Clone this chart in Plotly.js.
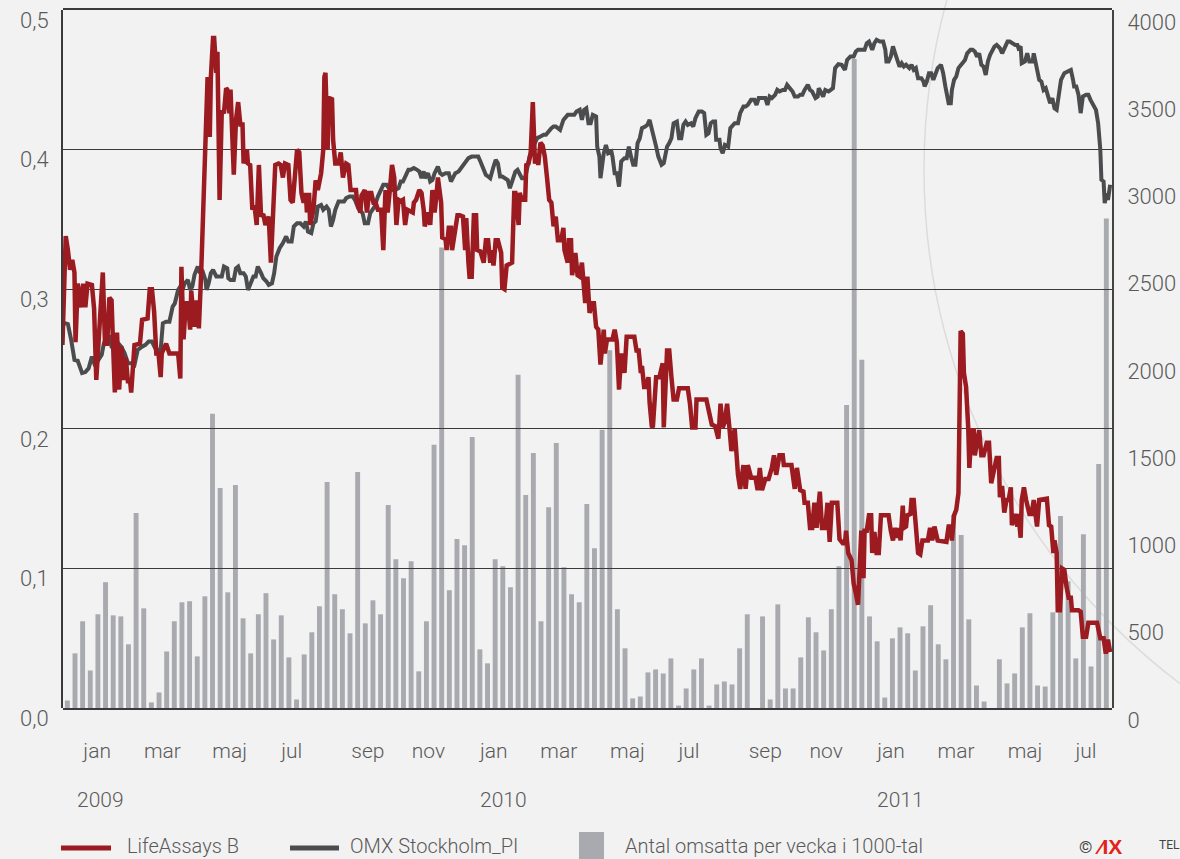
<!DOCTYPE html>
<html>
<head>
<meta charset="utf-8">
<script src="https://cdn.plot.ly/plotly-3.0.1.min.js"></script>
<style>
html,body{margin:0;padding:0;background:#f2f2f2;}
#chart{width:1180px;height:859px;}
</style>
</head>
<body>
<div id="chart"></div>
<script>
// ---------- DATA ----------
// LifeAssays B closing price (SEK), x = days from 2009-01-01
const lifeDays = [
-17,-14,-12,-10,-8,-6,-5,-3,0,2,
4,6,10,12,14,17,20,22,24,26,
28,29,31,33,35,37,39,41,43,45,
46,49,52,54,56,59,61,63,65,67,
69,71,73,74,78,81,86,89,91,92,
94,96,98,100,101,104,106,108,110,112,
114,116,118,119,121,122,124,125,127,129,
131,133,134,136,137,140,142,144,146,148,
149,152,153,155,157,159,161,163,165,167,
169,172,174,176,178,181,183,185,187,190,
192,194,196,198,200,202,204,206,207,209,
210,213,215,217,220,222,223,224,226,227,
230,231,233,236,238,240,243,245,247,249,
252,253,256,257,260,262,264,266,268,270,
272,275,277,279,281,283,285,287,289,291,
293,295,297,299,302,304,305,307,310,312,
314,315,318,320,322,324,326,327,330,331,
334,335,337,339,340,343,345,347,350,352,
353,355,356,358,360,362,363,366,369,371,
373,375,376,378,380,382,385,386,388,390,
392,395,397,398,401,402,404,407,408,410,
412,414,416,418,419,421,423,425,427,429,
431,433,435,437,440,442,443,446,447,449,
450,453,455,457,459,462,464,466,468,470,
472,474,476,479,480,482,485,487,489,491,
493,495,498,500,502,505,507,509,511,513,
514,516,518,520,521,523,524,527,530,533,
534,537,539,541,543,546,548,551,556,558,
560,563,564,573,576,578,581,584,586,588,
590,592,594,596,599,601,602,604,607,609,
611,614,618,620,622,624,627,630,633,635,
637,640,643,644,651,654,656,659,662,663,
666,668,670,672,674,677,679,682,684,686,
688,693,695,698,700,701,703,706,708,710,
712,715,717,718,720,722,724,725,727,729,
731,733,740,742,744,746,748,749,751,753,
754,756,757,760,761,763,765,767,769,771,
776,778,780,782,785,793,795,797,798,800,
802,804,806,808,809,811,813,814,816,818,
819,822,823,825,827,830,832,834,836,837,
839,841,842,844,846,848,850,852,853,856,
858,859,861,862,864,866,869,871,873,876,
878,885,887,889,891,892,894,895,897,899,
901,903,905,907,908,914,916,918,921,923,
931,934,937,939,941,943
];
const lifeValues = [
0.260,0.338,0.328,0.314,0.321,0.312,0.262,0.304,0.287,0.304,
0.287,0.304,0.303,0.286,0.235,0.271,0.312,0.261,0.261,0.294,
0.292,0.269,0.226,0.269,0.228,0.259,0.235,0.251,0.234,0.234,
0.226,0.260,0.261,0.261,0.278,0.279,0.279,0.300,0.300,0.284,
0.254,0.254,0.237,0.254,0.261,0.254,0.254,0.254,0.236,0.316,
0.264,0.290,0.290,0.271,0.299,0.273,0.292,0.272,0.309,0.366,
0.409,0.452,0.409,0.452,0.480,0.480,0.455,0.470,0.364,0.428,
0.426,0.444,0.443,0.426,0.443,0.382,0.421,0.434,0.418,0.418,
0.390,0.400,0.390,0.389,0.357,0.360,0.346,0.389,0.352,0.354,
0.346,0.352,0.319,0.347,0.389,0.390,0.389,0.380,0.390,0.389,
0.364,0.362,0.385,0.400,0.398,0.369,0.362,0.369,0.355,0.369,
0.346,0.357,0.378,0.371,0.383,0.400,0.452,0.455,0.400,0.437,
0.436,0.407,0.390,0.390,0.398,0.380,0.390,0.389,0.371,0.371,
0.371,0.362,0.355,0.367,0.371,0.355,0.369,0.369,0.362,0.362,
0.357,0.357,0.328,0.371,0.355,0.371,0.389,0.380,0.346,0.364,
0.363,0.364,0.346,0.357,0.356,0.355,0.362,0.364,0.371,0.369,
0.357,0.345,0.355,0.346,0.371,0.355,0.369,0.380,0.362,0.337,
0.336,0.328,0.344,0.344,0.328,0.342,0.353,0.353,0.352,0.328,
0.351,0.319,0.309,0.309,0.353,0.353,0.328,0.327,0.319,0.335,
0.335,0.319,0.328,0.317,0.335,0.335,0.326,0.301,0.300,0.317,
0.318,0.319,0.369,0.369,0.346,0.369,0.364,0.364,0.389,0.390,
0.397,0.434,0.390,0.397,0.389,0.405,0.403,0.395,0.380,0.364,
0.362,0.345,0.352,0.335,0.335,0.344,0.328,0.319,0.335,0.335,
0.310,0.326,0.310,0.309,0.319,0.290,0.309,0.283,0.290,0.290,
0.273,0.271,0.246,0.271,0.254,0.264,0.264,0.264,0.271,0.262,
0.228,0.254,0.240,0.266,0.266,0.266,0.266,0.256,0.256,0.240,
0.245,0.230,0.230,0.237,0.219,0.202,0.201,0.237,0.237,0.247,
0.201,0.256,0.256,0.237,0.221,0.221,0.229,0.229,0.229,0.218,
0.201,0.201,0.221,0.221,0.211,0.203,0.202,0.193,0.218,0.201,
0.205,0.218,0.202,0.184,0.200,0.167,0.167,0.157,0.174,0.157,
0.174,0.165,0.165,0.156,0.172,0.156,0.164,0.164,0.172,0.181,
0.167,0.181,0.181,0.174,0.174,0.157,0.172,0.156,0.155,0.147,
0.147,0.129,0.129,0.147,0.129,0.155,0.129,0.129,0.147,0.119,
0.147,0.147,0.121,0.118,0.118,0.127,0.111,0.106,0.089,0.082,
0.074,0.127,0.093,0.127,0.127,0.138,0.138,0.111,0.126,0.111,
0.111,0.138,0.138,0.127,0.120,0.129,0.122,0.129,0.120,0.145,
0.129,0.130,0.138,0.139,0.149,0.149,0.127,0.111,0.110,0.120,
0.120,0.129,0.120,0.130,0.120,0.119,0.130,0.130,0.120,0.138,
0.142,0.154,0.270,0.268,0.240,0.230,0.200,0.172,0.199,0.199,
0.181,0.197,0.199,0.181,0.181,0.190,0.190,0.161,0.170,0.170,
0.179,0.179,0.151,0.159,0.140,0.149,0.149,0.158,0.131,0.139,
0.130,0.139,0.122,0.149,0.158,0.149,0.139,0.139,0.149,0.130,
0.149,0.150,0.131,0.130,0.111,0.120,0.111,0.070,0.070,0.100,
0.099,0.087,0.079,0.079,0.070,0.070,0.069,0.051,0.051,0.061,
0.061,0.050,0.050,0.039,0.049,0.040
];

// OMX Stockholm_PI, x = days from 2009-01-01
const omxDays = [
-15,-12,-9,-6,-3,1,4,7,10,13,
16,19,21,24,26,28,31,34,37,40,
43,46,49,51,52,56,59,62,65,68,
71,73,75,78,81,84,86,89,91,93,
95,98,100,102,104,107,109,111,114,115,
117,119,121,124,127,129,131,134,135,137,
140,142,144,146,149,151,153,155,158,160,
162,165,167,170,172,175,177,179,182,185,
188,190,193,195,198,201,204,206,208,211,
213,215,217,220,222,225,227,229,231,233,
236,239,241,243,246,249,251,254,256,258,
260,263,265,267,269,272,274,277,280,282,
285,288,291,293,295,297,300,302,305,308,
310,312,314,315,318,320,322,324,327,329,
331,334,337,339,341,343,346,348,350,352,
355,358,361,364,366,369,371,373,375,378,
380,382,384,386,388,391,393,395,398,400,
402,404,407,409,411,413,416,418,421,424,
426,428,431,433,435,437,439,442,444,446,
450,452,454,457,459,461,463,465,467,469,
472,473,475,476,479,481,483,486,487,489,
491,493,495,498,500,502,504,506,508,510,
512,514,517,519,521,523,525,527,529,532,
534,537,539,541,543,546,548,550,552,554,
556,559,561,563,566,569,571,573,575,577,
579,581,582,585,586,588,590,593,595,597,
599,602,604,607,609,611,614,617,619,621,
624,627,629,631,633,636,638,640,643,645,
647,650,652,654,657,659,661,663,666,668,
670,673,675,676,679,680,682,685,687,689,
691,694,697,700,702,705,708,710,712,715,
718,720,722,725,727,729,732,735,737,738,
740,742,744,746,748,750,752,754,756,759,
761,763,765,767,770,772,773,775,777,779,
781,783,785,788,790,792,795,797,798,800,
802,804,807,810,812,815,817,819,821,823,
825,827,829,831,833,835,837,839,842,844,
847,849,851,853,856,858,859,861,862,865,
867,869,872,873,876,878,880,882,884,886,
888,890,892,894,895,897,898,901,905,907,
909,910,912,914,916,918,921,923,925,928,
930,932,934,935,937,938,940,941,943
];
const omxValues = [
2205,2200,2110,1995,1990,1919,1925,1947,2014,1960,
1995,2024,2091,2128,2128,2070,2052,2091,2070,2033,
1976,1976,1966,2033,2052,2071,2081,2100,2100,2062,
2052,2052,2205,2214,2214,2300,2319,2396,2415,2396,
2434,2453,2396,2415,2482,2530,2492,2511,2453,2396,
2434,2492,2511,2473,2473,2473,2530,2520,2463,2453,
2453,2520,2530,2492,2492,2473,2396,2434,2473,2473,
2530,2492,2463,2444,2425,2434,2492,2587,2635,2664,
2702,2673,2673,2759,2778,2778,2759,2788,2730,2721,
2778,2788,2873,2883,2855,2873,2855,2759,2797,2855,
2902,2902,2902,2922,2931,2931,2912,2864,2845,2836,
2778,2778,2836,2855,2873,2931,2959,2998,2998,2979,
2969,2969,2979,3017,3017,3046,3084,3084,3094,3084,
3075,3036,3075,3036,3065,3017,3026,3065,3103,3065,
3055,3065,3065,3017,3046,3065,3075,3094,3103,3122,
3151,3160,3160,3160,3132,3084,3055,3046,3036,3103,
3141,3122,3046,3046,3036,3026,2979,3017,3074,3084,
3055,3036,3036,3113,3160,3199,3237,3266,3275,3285,
3285,3304,3323,3332,3332,3323,3313,3370,3389,3399,
3399,3399,3418,3428,3370,3428,3437,3351,3351,3399,
3390,3217,3160,3036,3179,3227,3179,3189,3160,3065,
3065,2988,3132,3151,3151,3217,3160,3113,3113,3237,
3265,3323,3332,3342,3370,3323,3265,3217,3160,3113,
3122,3217,3237,3265,3351,3361,3265,3265,3342,3361,
3342,3351,3332,3380,3418,3418,3409,3285,3294,3351,
3361,3361,3256,3256,3208,3179,3227,3217,3323,3342,
3351,3351,3409,3447,3447,3456,3485,3485,3456,3495,
3495,3495,3456,3504,3495,3514,3542,3533,3542,3542,
3571,3552,3533,3504,3504,3514,3514,3542,3571,3542,
3533,3495,3504,3552,3523,3504,3542,3533,3542,3552,
3667,3690,3686,3657,3714,3733,3733,3762,3772,3772,
3772,3810,3819,3772,3810,3829,3819,3819,3772,3705,
3705,3733,3791,3752,3714,3676,3695,3676,3686,3667,
3686,3657,3667,3609,3609,3590,3562,3590,3638,3638,
3600,3628,3667,3686,3638,3562,3466,3466,3542,3600,
3619,3667,3695,3714,3752,3772,3772,3762,3733,3752,
3686,3676,3628,3705,3743,3772,3791,3800,3781,3752,
3791,3819,3819,3810,3800,3800,3781,3791,3695,3705,
3752,3705,3705,3752,3667,3600,3590,3542,3552,3504,
3466,3495,3437,3428,3475,3542,3600,3638,3648,3657,
3600,3562,3562,3514,3409,3504,3514,3514,3485,3447,
3428,3351,3199,3027,3017,2893,2950,2912,2998
];

// Weekly traded volume (thousands of shares), first week ending 2008-12-19
const volumeFirstWeek = '2008-12-19';
const volumeValues = [
43,313,497,215,537,721,531,525,365,1117,
571,32,89,324,497,606,612,296,640,1686,
1261,663,1278,514,313,537,658,393,531,290,
49,307,434,583,1295,652,566,428,1352,485,
617,537,1163,853,744,841,210,497,1508,2639,
675,968,933,1553,336,256,853,813,692,1910,
1220,1462,497,1151,1519,807,652,606,1169,916,
1594,2050,566,342,55,66,204,221,198,284,
14,112,221,284,14,135,152,135,342,537,
0,525,49,594,112,112,290,520,434,330,
566,813,1737,3719,1996,525,382,60,399,462,
428,215,468,589,365,279,1106,991,508,129,
37,0,279,141,198,462,543,129,123,548,
1100,726,284,996,238,1398,2805
];

const monthLabels = ['jan','mar','maj','jul','sep','nov','jan','mar','maj','jul','sep','nov','jan','mar','maj','jul'];
const yearLabels = ['2009','2010','2011'];
const seriesNames = ['LifeAssays B','OMX Stockholm_PI','Antal omsatta per vecka i 1000-tal'];

// ---------- HELPERS ----------
const DAY = 86400000;
const BASE = Date.UTC(2009, 0, 1);
function pad(n){ return (n < 10 ? '0' : '') + n; }
function dayToDate(d){
  const t = new Date(BASE + d * DAY);
  return t.getUTCFullYear() + '-' + pad(t.getUTCMonth() + 1) + '-' + pad(t.getUTCDate()) +
         ' ' + pad(t.getUTCHours()) + ':' + pad(t.getUTCMinutes());
}
const lifeX = lifeDays.map(dayToDate);
const omxX = omxDays.map(dayToDate);
const firstWeekMs = Date.parse(volumeFirstWeek + 'T12:00:00Z');
const volumeX = volumeValues.map(function(_, i){
  const t = new Date(firstWeekMs + i * 7 * DAY);
  return t.getUTCFullYear() + '-' + pad(t.getUTCMonth() + 1) + '-' + pad(t.getUTCDate()) + ' 12:00';
});

// ---------- STYLE / LAYOUT ----------
const RED = '#9b1b20';
const GRAY = '#4b4c4e';
const BAR = '#a9aab0';
const TXT = '#5a5a5a';
const FONT = 'Roboto, "Liberation Sans", Arial, sans-serif';

const xRange = [dayToDate(-16.49), dayToDate(944.7)];
const monthTickDays = [14.8,74.6,136.2,193.1,262.9,318.3,378.3,437.8,500.7,557.1,627.0,682.8,742.2,801.8,865.0,920.8];
const yearPosDays = [18.0, 387.5, 751.3];

const traces = [
  {
    type: 'bar', name: seriesNames[2], x: volumeX, y: volumeValues,
    xaxis: 'x', yaxis: 'y',
    marker: {color: BAR, line: {width: 0}},
    width: 4.5 * DAY, hoverinfo: 'skip', showlegend: false
  },
  {
    type: 'scatter', mode: 'lines', name: seriesNames[1], x: omxX, y: omxValues,
    xaxis: 'x2', yaxis: 'y2',
    line: {color: GRAY, width: 4, shape: 'linear'}, showlegend: false
  },
  {
    type: 'scatter', mode: 'lines', name: seriesNames[0], x: lifeX, y: lifeValues,
    xaxis: 'x2', yaxis: 'y3',
    line: {color: RED, width: 4.5, shape: 'linear'}, showlegend: false
  }
];

const tickFont = {family: FONT, size: 21, color: TXT, weight: 300};
const yTickFont = {family: FONT, size: 22, color: TXT, weight: 300};

function px2paperX(px){ return (px - 63) / 1049; }
function px2paperY(py){ return (708 - py) / 698; }

const annotations = [];
yearLabels.forEach(function(t, i){
  annotations.push({
    text: t, xref: 'x', yref: 'paper', x: dayToDate(yearPosDays[i]), y: px2paperY(800),
    xanchor: 'center', yanchor: 'middle', showarrow: false, font: tickFont
  });
});
const legendFont = {family: FONT, size: 20, color: TXT, weight: 300};
annotations.push({text: seriesNames[0], xref: 'paper', yref: 'paper', x: px2paperX(125), y: px2paperY(846),
  xanchor: 'left', yanchor: 'middle', showarrow: false, font: legendFont});
annotations.push({text: seriesNames[1], xref: 'paper', yref: 'paper', x: px2paperX(348), y: px2paperY(846),
  xanchor: 'left', yanchor: 'middle', showarrow: false, font: legendFont});
annotations.push({text: seriesNames[2], xref: 'paper', yref: 'paper', x: px2paperX(623), y: px2paperY(846),
  xanchor: 'left', yanchor: 'middle', showarrow: false, font: legendFont});
annotations.push({text: '©', xref: 'paper', yref: 'paper', x: px2paperX(1077), y: px2paperY(847),
  xanchor: 'left', yanchor: 'middle', showarrow: false, font: {family: FONT, size: 17, color: '#444'}});
annotations.push({text: '<b>⁄IX</b>', xref: 'paper', yref: 'paper', x: px2paperX(1093), y: px2paperY(846),
  xanchor: 'left', yanchor: 'middle', showarrow: false, font: {family: '"Liberation Sans", Arial, sans-serif', size: 21, color: '#e2231a'}});
annotations.push({text: 'TELEKURS', xref: 'paper', yref: 'paper', x: px2paperX(1157), y: px2paperY(845),
  xanchor: 'left', yanchor: 'middle', showarrow: false, font: {family: FONT, size: 12, color: '#444'}});

const shapes = [
  {type: 'circle', xref: 'paper', yref: 'paper', layer: 'below',
   x0: 0.8208, x1: 2.0467, y0: -0.1504, y1: 1.692,
   line: {color: '#dcdcdc', width: 1.5}},
  {type: 'line', xref: 'paper', yref: 'paper', x0: px2paperX(61), x1: px2paperX(111),
   y0: px2paperY(848), y1: px2paperY(848), line: {color: RED, width: 5}},
  {type: 'line', xref: 'paper', yref: 'paper', x0: px2paperX(290), x1: px2paperX(339),
   y0: px2paperY(848), y1: px2paperY(848), line: {color: GRAY, width: 5}},
  {type: 'rect', xref: 'paper', yref: 'paper', x0: px2paperX(579), x1: px2paperX(604),
   y0: px2paperY(862), y1: px2paperY(832), fillcolor: BAR, line: {width: 0}}
];

const layout = {
  width: 1180, height: 859,
  margin: {l: 63, r: 68, t: 10, b: 151, pad: 0},
  paper_bgcolor: '#f2f2f2',
  plot_bgcolor: 'rgba(0,0,0,0)',
  separators: ', ',
  showlegend: false,
  font: {family: FONT, color: TXT},
  xaxis: {
    type: 'date', range: xRange, domain: [0, 1], anchor: 'y',
    tickmode: 'array', tickvals: monthTickDays.map(dayToDate), ticktext: monthLabels,
    ticks: '', showgrid: false, zeroline: false,
    showline: true, linecolor: '#3a3a3a', linewidth: 2, mirror: true,
    tickfont: tickFont, ticklabelstandoff: 23
  },
  yaxis: {
    range: [0, 4000], domain: [0, 1], anchor: 'x',
    showgrid: false, zeroline: false, showticklabels: false, ticks: '', showline: false
  },
  xaxis2: {
    type: 'date', range: xRange, domain: [0, 1], anchor: 'y2',
    showgrid: false, zeroline: false, showticklabels: false, ticks: '', showline: false
  },
  yaxis2: {
    range: [0, 4000], domain: [0, 1], anchor: 'x2', side: 'right',
    tickmode: 'linear', tick0: 0, dtick: 500, tickformat: 'd',
    showgrid: false, zeroline: false, ticks: '',
    showline: true, linecolor: '#444', linewidth: 2,
    tickfont: yTickFont, ticklabelstandoff: 9, ticklabelshift: 12
  },
  yaxis3: {
    range: [0, 0.5], overlaying: 'y2', anchor: 'x2', side: 'left',
    tickmode: 'linear', tick0: 0, dtick: 0.1, tickformat: '.1f',
    showgrid: true, gridcolor: '#3a3a3a', gridwidth: 1,
    zeroline: false, ticks: '',
    showline: true, linecolor: '#3a3a3a', linewidth: 2,
    tickfont: yTickFont, ticklabelstandoff: 8, ticklabelshift: 10
  },
  annotations: annotations,
  shapes: shapes
};

Plotly.newPlot('chart', traces, layout, {staticPlot: true, displayModeBar: false});
</script>
</body>
</html>
